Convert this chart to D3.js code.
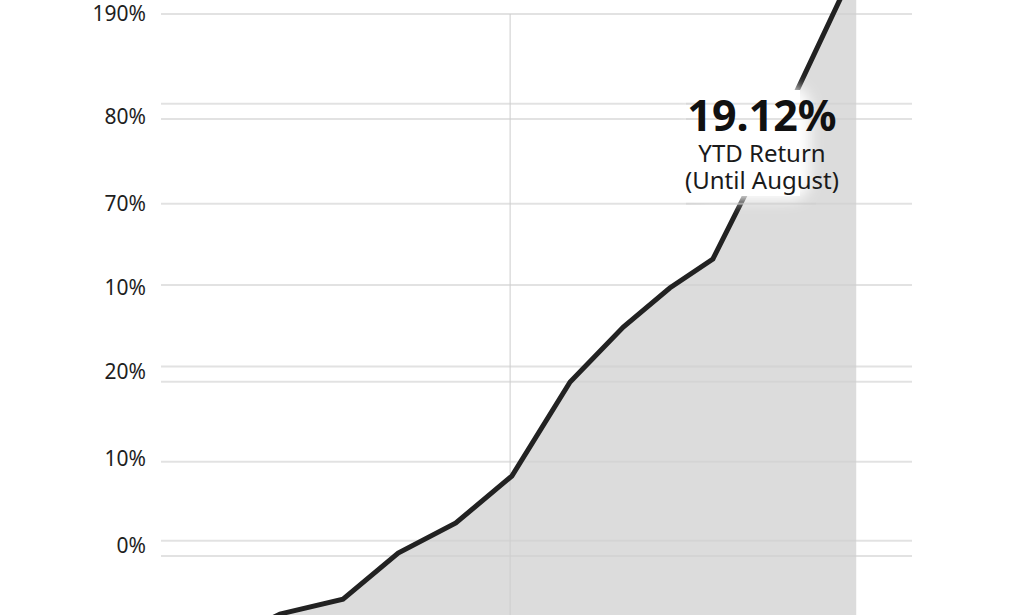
<!DOCTYPE html>
<meta charset="utf-8">
<script src="https://d3js.org/d3.v7.min.js"></script>
<style>
  body { margin: 0; background: #fff; }
  text { font-family: "Noto Sans", "Open Sans", sans-serif; }
</style>
<div id="ytd_chart"></div>
<script>

    // Cumulative return path (x in weeks-ish units, y in chart units)
    var weeks   = [0, 1, 2.125, 3.11, 4.14, 5.14, 6.18, 7.13, 7.96, 8.73, 10.11, 11.29]
    var returns = [-3.2, -2.14, -1.59, 0.11, 1.22, 2.95, 6.42, 8.45, 9.89, 10.96, 16.64, 21.81]

    // Gridlines and the (odd) tick labels as printed
    var gridValues  = [20, 16.69, 16.13, 13.0, 10.0, 6.99, 6.43, 3.48, 0.56, 0]
    var tickValues  = [20, 16.2, 13.0, 9.9, 6.8, 3.6, 0.4]
    var tickLabels  = ["190%", "80%", "70%", "10%", "20%", "10%", "0%"]
    var markerWeek  = 5.11

    var headline = "19.12%"
    var subLines = ["YTD Return", "(Until August)"]

    var width = 1024, height = 615

    var svg = d3.select("#ytd_chart")
      .append("svg")
        .attr("width", width)
        .attr("height", height)

    // ----------------- //
    // Scales
    // ----------------- //
    var x = d3.scaleLinear()
        .domain([0, 10])
        .range([224, 784])

    var y = d3.scaleLinear()
        .domain([0, 20])
        .range([556, 14])

    var defs = svg.append("defs")
    defs.append("clipPath").attr("id", "plotClip")
      .append("rect")
        .attr("x", 0).attr("y", 0)
        .attr("width", width).attr("height", height)
    defs.append("clipPath").attr("id", "noteClip")
      .append("rect")
        .attr("x", 686).attr("y", 80)
        .attr("width", 130).attr("height", 126)
    defs.append("filter").attr("id", "soft")
        .attr("x", "-50%").attr("y", "-50%").attr("width", "200%").attr("height", "200%")
      .append("feGaussianBlur").attr("stdDeviation", 7)

    var plot = svg.append("g").attr("clip-path", "url(#plotClip)")

    var pts = weeks.map(function(w, i){ return [w, returns[i]] })

    // Area under the line
    var area = d3.area()
        .x(function(d){ return x(d[0]) })
        .y0(height + 20)
        .y1(function(d){ return y(d[1]) })
    plot.append("path")
        .datum(pts)
        .attr("d", area)
        .attr("fill", "#dcdcdc")

    function drawGrid(g) {
        g.selectAll("gridLines")
          .data(gridValues)
          .enter()
          .append("line")
            .attr("x1", 161)
            .attr("x2", 912)
            .attr("y1", function(d){ return y(d) })
            .attr("y2", function(d){ return y(d) })
            .attr("stroke", "#cfcfcf")
            .attr("stroke-opacity", 0.6)
            .attr("stroke-width", 2)
    }

    // Horizontal gridlines
    drawGrid(plot.append("g"))

    // Vertical marker line
    plot.append("line")
        .attr("x1", x(markerWeek)).attr("x2", x(markerWeek))
        .attr("y1", y(20)).attr("y2", height)
        .attr("stroke", "#cfcfcf")
        .attr("stroke-opacity", 0.7)
        .attr("stroke-width", 1.5)

    // Return line
    var line = d3.line()
        .x(function(d){ return x(d[0]) })
        .y(function(d){ return y(d[1]) })
    plot.append("path")
        .datum(pts)
        .attr("d", line)
        .attr("fill", "none")
        .attr("stroke", "#222")
        .attr("stroke-width", 5)
        .attr("stroke-linejoin", "miter")

    // Soft white patch behind the annotation (hides the line there)
    plot.append("rect")
        .attr("x", 692).attr("y", 86)
        .attr("width", 118).attr("height", 114)
        .attr("rx", 20)
        .attr("fill", "#fff")
        .attr("filter", "url(#soft)")
    plot.append("rect")
        .attr("x", 700).attr("y", 90)
        .attr("width", 100).attr("height", 106)
        .attr("fill", "#fff")

    // gridlines show through the patch
    drawGrid(plot.append("g").attr("clip-path", "url(#noteClip)"))

    // Y tick labels
    svg.selectAll("tickLabels")
      .data(tickValues)
      .enter()
      .append("text")
        .attr("x", 146)
        .attr("y", function(d){ return y(d) })
        .attr("dy", "0.35em")
        .attr("text-anchor", "end")
        .style("font-size", "21px")
        .style("fill", "#1e1e1e")
        .text(function(d, i){ return tickLabels[i] })

    // Annotation
    svg.append("text")
        .attr("x", 762).attr("y", 131)
        .attr("text-anchor", "middle")
        .style("font-size", "43px")
        .style("font-weight", "bold")
        .style("fill", "#111")
        .text(headline)
    svg.selectAll("subLines")
      .data(subLines)
      .enter()
      .append("text")
        .attr("x", 762)
        .attr("y", function(d, i){ return 162 + i * 27 })
        .attr("text-anchor", "middle")
        .style("font-size", "24px")
        .style("fill", "#1a1a1a")
        .text(function(d){ return d })

</script>
